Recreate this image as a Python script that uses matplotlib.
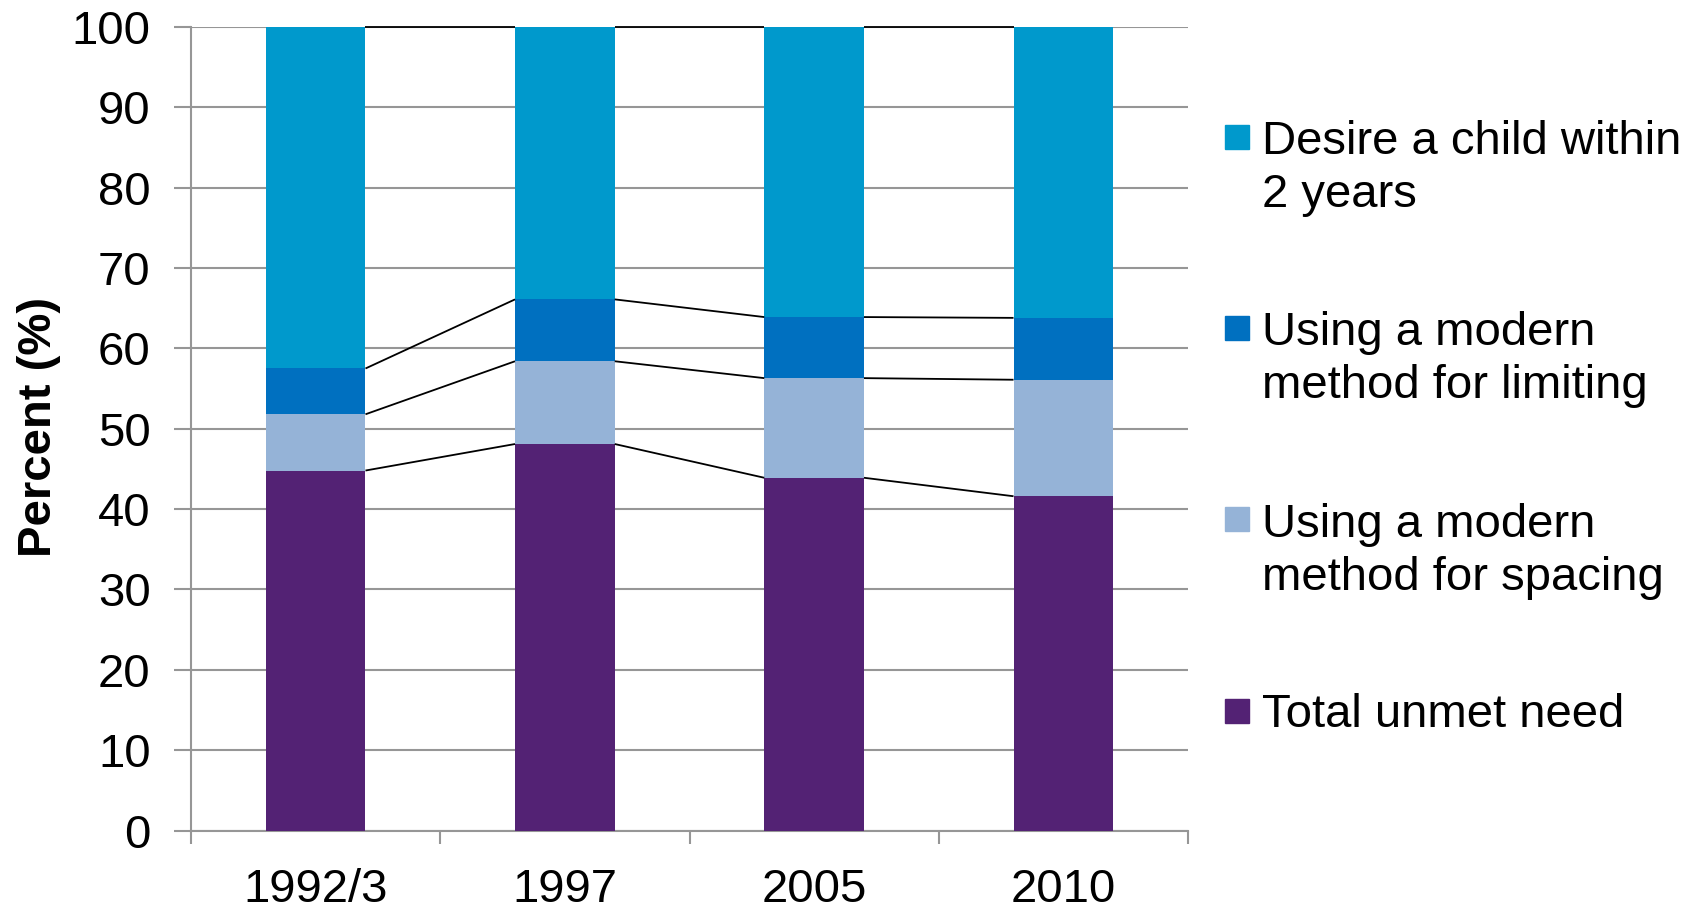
import numpy as np
import matplotlib
matplotlib.use("Agg")
import matplotlib.pyplot as plt
from matplotlib.patches import Rectangle

plt.rcParams['font.family'] = ['Liberation Sans', 'DejaVu Sans']

# survey rounds
years = ['1992/3', '1997', '2005', '2010']

# stacked components, percent of total demand
unmet_total = [44.8, 48.1, 43.9, 41.6]
modern_spacing = [7.0, 10.3, 12.4, 14.5]
modern_limiting = [5.7, 7.7, 7.6, 7.7]
desire_child = [42.5, 33.9, 36.1, 36.2]

series = [
    ('Total unmet need', unmet_total, '#532274'),
    ('Using a modern\nmethod for spacing', modern_spacing, '#95B3D7'),
    ('Using a modern\nmethod for limiting', modern_limiting, '#0070C0'),
    ('Desire a child within\n2 years', desire_child, '#0099CC'),
]

W, H = 1703, 909
fs = 34
fig = plt.figure(figsize=(W / 100, H / 100), dpi=100)
ax = fig.add_axes([191 / W, 1 - 830.5 / H, (1188 - 191) / W, (830.5 - 27) / H])

x = np.arange(len(years))
bw = 0.4
grid_col = '#969696'

bottom = np.zeros(len(years))
for label, vals, col in series:
    vals = np.array(vals)
    ax.bar(x, vals, bw, bottom=bottom, color=col, zorder=3)
    bottom = bottom + vals
    # series lines joining the segment tops of neighbouring bars
    for i in range(len(years) - 1):
        ax.plot([x[i] + bw / 2, x[i + 1] - bw / 2], [bottom[i], bottom[i + 1]],
                color='black', lw=1.3, zorder=4, solid_capstyle='butt',
                clip_on=False)

ax.set_xlim(-0.5, len(years) - 0.5)
ax.set_ylim(0, 100)
ax.set_yticks(np.arange(0, 101, 10))
ax.yaxis.grid(True, color=grid_col, lw=1.5, zorder=0)
ax.set_axisbelow(True)

ax.set_xticks(x)
ax.set_xticklabels(years, fontsize=fs)
ax.set_xticks(np.arange(-0.5, len(years), 1), minor=True)
ax.tick_params(axis='x', which='major', length=0, pad=27)
ax.tick_params(axis='x', which='minor', length=9, width=1.5, color=grid_col)
ax.tick_params(axis='y', labelsize=fs, length=12, width=1.5, color=grid_col, pad=17)

for s in ['top', 'right']:
    ax.spines[s].set_visible(False)
for s in ['left', 'bottom']:
    ax.spines[s].set_color(grid_col)
    ax.spines[s].set_linewidth(1.5)

fig.text(39 / W, 1 - 427 / H, 'Percent (%)', rotation=90, fontsize=fs,
         fontweight='bold', ha='center', va='center')

# legend, top entry first; y values are first-line baselines in pixels
leg_base = [152.7, 344.0, 535.4, 726.7]
pitch = 54.3
for (label, vals, col), yb in zip(series[::-1], leg_base):
    fig.add_artist(Rectangle((1225 / W, 1 - (yb - 4) / H), 24 / W, 24 / H,
                             color=col, transform=fig.transFigure))
    last = yb + pitch * label.count('\n')
    fig.text(1262 / W, 1 - last / H, label, fontsize=fs, ha='left',
             va='baseline', linespacing=1.27)

fig.savefig('out.png', dpi=100)
